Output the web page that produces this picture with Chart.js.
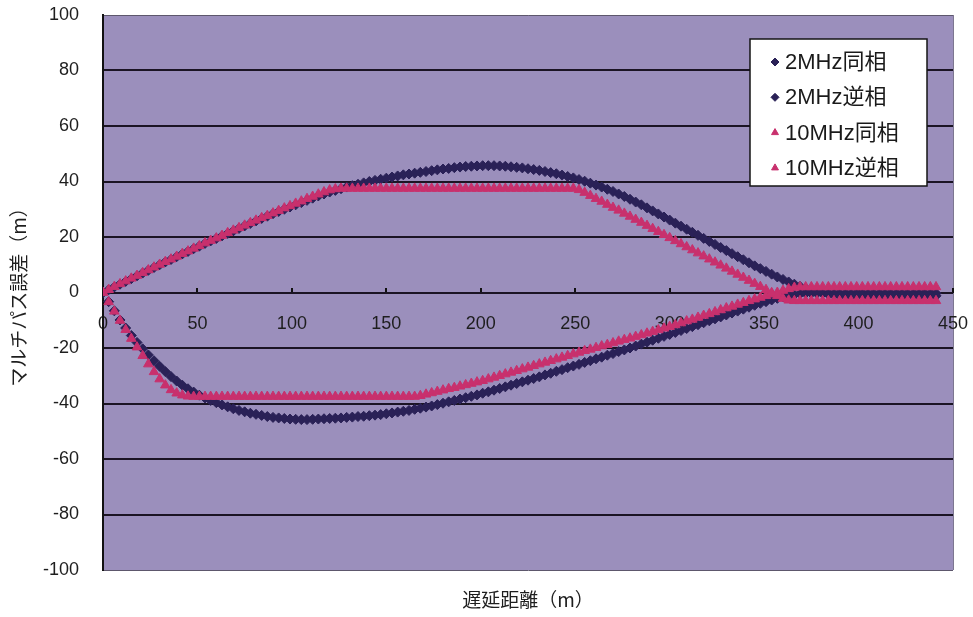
<!DOCTYPE html>
<html>
<head>
<meta charset="utf-8">
<script src="https://cdn.jsdelivr.net/npm/chart.js@4/dist/chart.umd.min.js"></script>
<style>
  html, body { margin: 0; padding: 0; background: #ffffff; }
  canvas { display: block; }
</style>
</head>
<body>
<canvas id="c" width="973" height="617"></canvas>
<script>
// Delay distance (m) of the reflected path
const distances = [
  0, 3, 6, 9, 12, 15, 18, 21, 24, 27,
  30, 33, 36, 39, 42, 45, 48, 51, 54, 57,
  60, 63, 66, 69, 72, 75, 78, 81, 84, 87,
  90, 93, 96, 99, 102, 105, 108, 111, 114, 117,
  120, 123, 126, 129, 132, 135, 138, 141, 144, 147,
  150, 153, 156, 159, 162, 165, 168, 171, 174, 177,
  180, 183, 186, 189, 192, 195, 198, 201, 204, 207,
  210, 213, 216, 219, 222, 225, 228, 231, 234, 237,
  240, 243, 246, 249, 252, 255, 258, 261, 264, 267,
  270, 273, 276, 279, 282, 285, 288, 291, 294, 297,
  300, 303, 306, 309, 312, 315, 318, 321, 324, 327,
  330, 333, 336, 339, 342, 345, 348, 351, 354, 357,
  360, 363, 366, 369, 372, 375, 378, 381, 384, 387,
  390, 393, 396, 399, 402, 405, 408, 411, 414, 417,
  420, 423, 426, 429, 432, 435, 438, 441
];

// Multipath error (m), 2 MHz, reflected wave in phase
const mhz2InPhase = [
  0, 1.0, 2.0, 3.0, 4.0, 5.0, 6.0, 7.0, 8.0, 9.0,
  10.0, 11.0, 11.9, 12.9, 13.9, 14.8, 15.8, 16.7, 17.7, 18.6,
  19.5, 20.4, 21.3, 22.2, 23.1, 24.0, 24.9, 25.8, 26.7, 27.5,
  28.4, 29.2, 30.0, 30.8, 31.6, 32.4, 33.2, 34.0, 34.8, 35.5,
  36.2, 36.8, 37.4, 38.0, 38.5, 39.0, 39.5, 40.0, 40.4, 40.8,
  41.2, 41.6, 42.0, 42.4, 42.7, 43.0, 43.3, 43.6, 43.9, 44.2,
  44.5, 44.7, 45.0, 45.2, 45.4, 45.5, 45.6, 45.7, 45.7, 45.7,
  45.6, 45.5, 45.3, 45.1, 44.9, 44.6, 44.3, 44.0, 43.6, 43.2,
  42.8, 42.3, 41.8, 41.3, 40.7, 40.1, 39.4, 38.7, 38.0, 37.2,
  36.4, 35.5, 34.6, 33.6, 32.6, 31.6, 30.5, 29.4, 28.3, 27.2,
  26.1, 25.0, 23.9, 22.8, 21.7, 20.6, 19.5, 18.4, 17.3, 16.2,
  15.1, 14.0, 12.9, 11.8, 10.7, 9.6, 8.6, 7.6, 6.6, 5.6,
  4.7, 3.8, 3.0, 2.2, 1.5, 0.8, 0.2, -0.3, -0.7, -1.0,
  -1.2, -1.2, -1.2, -1.2, -1.2, -1.2, -1.2, -1.2, -1.2, -1.2,
  -1.2, -1.2, -1.2, -1.2, -1.2, -1.2, -1.2, -1.2
];

// Multipath error (m), 2 MHz, reflected wave in anti-phase
const mhz2AntiPhase = [
  0, -3.3, -6.6, -9.9, -12.8, -15.5, -18.0, -20.3, -22.5, -24.6,
  -26.6, -28.5, -30.3, -31.9, -33.4, -34.7, -35.9, -37.0, -38.0, -38.9,
  -39.7, -40.5, -41.2, -41.9, -42.5, -43.0, -43.5, -43.9, -44.3, -44.7,
  -45.0, -45.2, -45.4, -45.6, -45.7, -45.8, -45.8, -45.7, -45.6, -45.5,
  -45.4, -45.3, -45.2, -45.0, -44.9, -44.7, -44.6, -44.4, -44.2, -44.0,
  -43.7, -43.4, -43.1, -42.8, -42.5, -42.1, -41.7, -41.3, -40.9, -40.4,
  -39.9, -39.4, -38.9, -38.4, -37.9, -37.4, -36.9, -36.3, -35.8, -35.2,
  -34.6, -34.0, -33.4, -32.8, -32.2, -31.6, -31.0, -30.4, -29.7, -29.1,
  -28.4, -27.8, -27.1, -26.5, -25.9, -25.2, -24.6, -23.9, -23.3, -22.6,
  -22.0, -21.3, -20.7, -20.0, -19.3, -18.6, -17.9, -17.2, -16.5, -15.8,
  -15.1, -14.4, -13.7, -13.0, -12.3, -11.6, -10.9, -10.2, -9.5, -8.8,
  -8.1, -7.4, -6.7, -6.0, -5.3, -4.6, -3.9, -3.3, -2.7, -2.1,
  -1.6, -1.2, -0.8, -0.5, -0.3, -0.3, -0.3, -0.3, -0.3, -0.3,
  -0.3, -0.3, -0.3, -0.3, -0.3, -0.3, -0.3, -0.3, -0.3, -0.3,
  -0.3, -0.3, -0.3, -0.3, -0.3, -0.3, -0.3, -0.3
];

// Multipath error (m), 10 MHz, reflected wave in phase
const mhz10InPhase = [
  0, 1.0, 2.1, 3.1, 4.1, 5.1, 6.1, 7.1, 8.1, 9.1,
  10.1, 11.1, 12.0, 13.0, 14.0, 14.9, 15.9, 16.8, 17.8, 18.7,
  19.6, 20.5, 21.5, 22.4, 23.3, 24.2, 25.1, 26.0, 26.9, 27.7,
  28.6, 29.5, 30.4, 31.2, 32.1, 32.9, 33.8, 34.6, 35.4, 36.2,
  36.9, 37.3, 37.5, 37.5, 37.5, 37.5, 37.5, 37.5, 37.5, 37.5,
  37.5, 37.5, 37.5, 37.5, 37.5, 37.5, 37.5, 37.5, 37.5, 37.5,
  37.5, 37.5, 37.5, 37.5, 37.5, 37.5, 37.5, 37.5, 37.5, 37.5,
  37.5, 37.5, 37.5, 37.5, 37.5, 37.5, 37.5, 37.5, 37.5, 37.5,
  37.5, 37.5, 37.5, 37.5, 37.0, 36.0, 34.9, 33.8, 32.8, 31.7,
  30.6, 29.6, 28.5, 27.4, 26.3, 25.2, 24.1, 23.0, 21.9, 20.8,
  19.7, 18.6, 17.5, 16.4, 15.3, 14.2, 13.1, 12.0, 10.9, 9.8,
  8.7, 7.6, 6.5, 5.4, 4.3, 3.2, 2.1, 1.0, -0.1, -1.2,
  -2.2, -2.8, -3.0, -3.0, -3.0, -3.0, -3.0, -3.0, -3.0, -3.0,
  -3.0, -3.0, -3.0, -3.0, -3.0, -3.0, -3.0, -3.0, -3.0, -3.0,
  -3.0, -3.0, -3.0, -3.0, -3.0, -3.0, -3.0, -3.0
];

// Multipath error (m), 10 MHz, reflected wave in anti-phase
const mhz10AntiPhase = [
  0, -3.4, -6.8, -10.1, -13.4, -16.6, -19.7, -22.8, -25.8, -28.6,
  -31.2, -33.4, -35.1, -36.3, -37.0, -37.4, -37.5, -37.5, -37.5, -37.5,
  -37.5, -37.5, -37.5, -37.5, -37.5, -37.5, -37.5, -37.5, -37.5, -37.5,
  -37.5, -37.5, -37.5, -37.5, -37.5, -37.5, -37.5, -37.5, -37.5, -37.5,
  -37.5, -37.5, -37.5, -37.5, -37.5, -37.5, -37.5, -37.5, -37.5, -37.5,
  -37.5, -37.5, -37.5, -37.5, -37.5, -37.5, -37.2, -36.7, -36.2, -35.7,
  -35.2, -34.7, -34.3, -33.8, -33.3, -32.8, -32.3, -31.8, -31.2, -30.6,
  -30.0, -29.4, -28.8, -28.2, -27.6, -27.0, -26.4, -25.8, -25.2, -24.6,
  -24.0, -23.4, -22.8, -22.2, -21.6, -21.0, -20.5, -19.9, -19.3, -18.8,
  -18.2, -17.6, -17.0, -16.5, -15.9, -15.3, -14.7, -14.1, -13.5, -12.9,
  -12.3, -11.7, -11.0, -10.3, -9.7, -9.0, -8.3, -7.7, -7.0, -6.3,
  -5.6, -5.0, -4.3, -3.7, -3.0, -2.4, -1.8, -1.2, -0.6, 0.0,
  0.7, 1.3, 1.8, 2.0, 2.0, 2.0, 2.0, 2.0, 2.0, 2.0,
  2.0, 2.0, 2.0, 2.0, 2.0, 2.0, 2.0, 2.0, 2.0, 2.0,
  2.0, 2.0, 2.0, 2.0, 2.0, 2.0, 2.0, 2.0
];

const seriesLabels = ['2MHz同相', '2MHz逆相', '10MHz同相', '10MHz逆相'];
const xTitleText = '遅延距離（m）';
const yTitleText = 'マルチパス誤差（m）';

const NAVY = '#2a2157';
const PINK = '#c8306d';
const PLOT_BG = '#9b8fbc';
const latinFont = '"Liberation Sans", Arial, sans-serif';
const cjkFont = '"Noto Sans CJK JP", "Liberation Sans", sans-serif';
const legendFont = '"Liberation Sans", "Noto Sans CJK JP", sans-serif';

const toPoints = ys => distances.map((x, i) => ({ x: x, y: ys[i] }));

function makeSet(label, ys, color, style, radius, order) {
  return {
    label: label,
    data: toPoints(ys),
    pointStyle: style,
    pointRadius: radius,
    backgroundColor: color,
    borderColor: color,
    borderWidth: 1,
    showLine: false,
    order: order
  };
}

// Lavender plot area with a thin frame on its right side
const plotBackground = {
  id: 'plotBackground',
  beforeDraw(chart) {
    const { ctx, chartArea: a } = chart;
    ctx.save();
    ctx.fillStyle = PLOT_BG;
    ctx.fillRect(a.left, a.top, a.right - a.left, a.bottom - a.top);
    ctx.strokeStyle = '#7d7790';
    ctx.lineWidth = 1;
    ctx.beginPath();
    ctx.moveTo(a.right + 0.5, a.top);
    ctx.lineTo(a.right + 0.5, a.bottom);
    ctx.stroke();
    ctx.restore();
  }
};

// Boxed legend in the upper right corner of the plot
const boxLegend = {
  id: 'boxLegend',
  afterDatasetsDraw(chart) {
    const { ctx, chartArea: a } = chart;
    const w = 177, h = 147;
    const x0 = a.right - 26 - w;
    const y0 = a.top + 24;
    ctx.save();
    ctx.fillStyle = '#ffffff';
    ctx.fillRect(x0, y0, w, h);
    ctx.strokeStyle = '#151515';
    ctx.lineWidth = 1.5;
    ctx.strokeRect(x0, y0, w, h);
    ctx.font = '22px ' + legendFont;
    ctx.textBaseline = 'middle';
    ctx.textAlign = 'left';
    chart.data.datasets.forEach((ds, i) => {
      const cy = y0 + 23 + i * 35.3;
      ctx.fillStyle = ds.backgroundColor;
      ctx.strokeStyle = ds.borderColor;
      ctx.lineWidth = 1;
      Chart.helpers.drawPoint(ctx, { pointStyle: ds.pointStyle, radius: 4, rotation: 0, borderWidth: 1 }, x0 + 25, cy);
      ctx.fillStyle = '#1a1a1a';
      ctx.fillText(ds.label, x0 + 35, cy + 1);
    });
    ctx.restore();
  }
};

new Chart(document.getElementById('c'), {
  type: 'scatter',
  data: {
    datasets: [
      makeSet(seriesLabels[0], mhz2InPhase, NAVY, 'rectRot', 5, 1),
      makeSet(seriesLabels[1], mhz2AntiPhase, NAVY, 'rectRot', 5, 1),
      makeSet(seriesLabels[2], mhz10InPhase, PINK, 'triangle', 5.5, 0),
      makeSet(seriesLabels[3], mhz10AntiPhase, PINK, 'triangle', 5.5, 0)
    ]
  },
  options: {
    responsive: false,
    animation: false,
    layout: { padding: { left: 0, right: 20, top: 15, bottom: 0 } },
    plugins: {
      legend: { display: false },
      tooltip: { enabled: false }
    },
    scales: {
      x: {
        type: 'linear',
        position: { y: 0 },
        min: 0,
        max: 450,
        ticks: {
          stepSize: 50,
          padding: 26,
          autoSkip: false,
          maxRotation: 0,
          color: '#1e1e1e',
          font: { family: latinFont, size: 18 }
        },
        grid: { drawOnChartArea: false, drawTicks: true, tickLength: -5, color: '#111111', lineWidth: 2 },
        border: { display: false },
        afterFit(scale) {
          scale.height = 0;
          scale.paddingLeft = 0;
          scale.paddingRight = 0;
          scale.paddingTop = 0;
          scale.paddingBottom = 0;
        }
      },
      xTitle: {
        type: 'linear',
        position: 'bottom',
        min: 0,
        max: 450,
        ticks: { display: false },
        grid: { display: false },
        border: { display: false },
        title: {
          display: true,
          text: xTitleText,
          color: '#1e1e1e',
          font: { family: cjkFont, size: 19 },
          padding: { top: 0, bottom: 6 }
        },
        afterFit(scale) {
          scale.height = 47;
          scale.paddingLeft = 0;
          scale.paddingRight = 0;
        }
      },
      y: {
        type: 'linear',
        min: -100,
        max: 100,
        ticks: {
          stepSize: 20,
          padding: 24,
          color: '#1e1e1e',
          font: { family: latinFont, size: 18 }
        },
        grid: {
          drawTicks: false,
          color: c => (Math.abs(c.tick.value) === 100 ? '#5d576c' : '#1b1424'),
          lineWidth: c => (Math.abs(c.tick.value) === 100 ? 1 : 2)
        },
        border: { display: true, color: '#111111', width: 2 },
        title: {
          display: true,
          text: yTitleText,
          color: '#1e1e1e',
          font: { family: cjkFont, size: 19 },
          padding: { top: 7, bottom: 0 }
        },
        afterFit(scale) {
          scale.width = 103;
          scale.paddingTop = 0;
          scale.paddingBottom = 0;
        }
      }
    }
  },
  plugins: [plotBackground, boxLegend]
});
</script>
</body>
</html>
